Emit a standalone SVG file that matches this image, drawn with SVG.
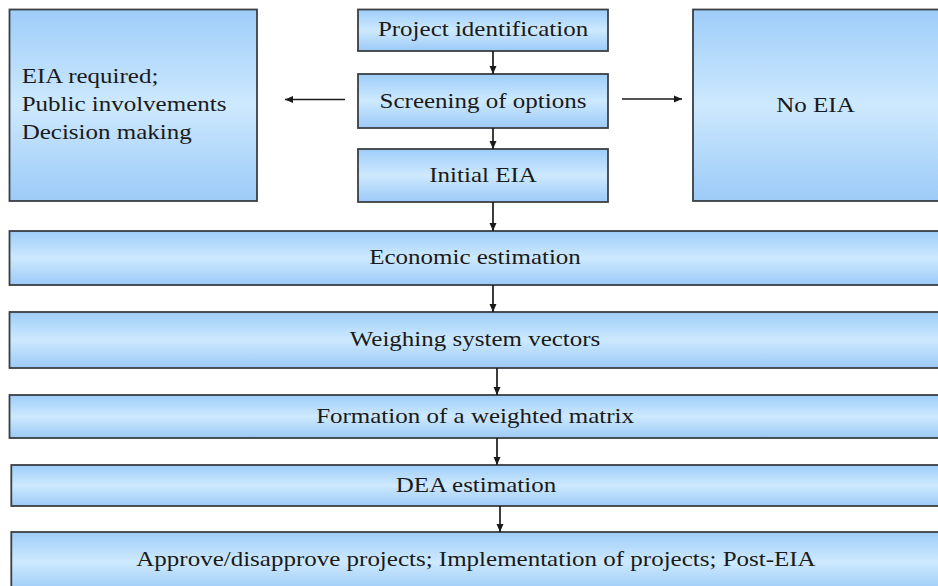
<svg xmlns="http://www.w3.org/2000/svg" width="938" height="586" viewBox="0 0 938 586">
<defs>
<linearGradient id="g" x1="0" y1="0" x2="0" y2="1">
<stop offset="0" stop-color="#9ecdf9"/>
<stop offset="0.5" stop-color="#cde9fe"/>
<stop offset="1" stop-color="#9ccaf7"/>
</linearGradient>
<marker id="ah" markerWidth="9" markerHeight="9" refX="8" refY="4.5" orient="auto" markerUnits="userSpaceOnUse">
<path d="M0,1 L8,4.5 L0,8 Z" fill="#1a1a1a"/>
</marker>
<style>
.box{fill:url(#g);stroke:#3b3f44;stroke-width:1.8}
.t{font-family:"Liberation Serif","Times New Roman",serif;font-size:21px;fill:#1a1a1a}
.m{text-anchor:middle}
.c{stroke:#1a1a1a;stroke-width:1.7;fill:none;marker-end:url(#ah)}
</style>
</defs>
<rect width="938" height="586" fill="#ffffff"/>
<g id="eia-required">
<rect class="box" x="9.5" y="9.5" width="247.5" height="191.5"/>
<text class="t" transform="scale(1.19 1)"><tspan x="18.2" y="83">EIA required;</tspan><tspan x="18.2" y="111">Public involvements</tspan><tspan x="18.2" y="139">Decision making</tspan></text>
</g>
<g id="project-identification">
<rect class="box" x="358" y="9.5" width="250" height="41.5"/>
<text class="t m" x="405.9" y="36.5" transform="scale(1.19 1)">Project identification</text>
</g>
<g id="screening">
<rect class="box" x="358" y="74" width="250" height="54"/>
<text class="t m" x="405.9" y="108" transform="scale(1.19 1)">Screening of options</text>
</g>
<g id="initial-eia">
<rect class="box" x="358" y="149" width="250" height="53"/>
<text class="t m" x="405.9" y="182" transform="scale(1.19 1)">Initial EIA</text>
</g>
<g id="no-eia">
<rect class="box" x="693" y="9.5" width="247" height="191.5"/>
<text class="t m" x="685.3" y="112" transform="scale(1.19 1)">No EIA</text>
</g>
<g id="economic-estimation">
<rect class="box" x="9.5" y="231" width="931" height="54"/>
<text class="t m" x="399.2" y="264" transform="scale(1.19 1)">Economic estimation</text>
</g>
<g id="weighing">
<rect class="box" x="9.5" y="312" width="931" height="56"/>
<text class="t m" x="399.2" y="346.5" transform="scale(1.19 1)">Weighing system vectors</text>
</g>
<g id="formation">
<rect class="box" x="9.5" y="395" width="931" height="43"/>
<text class="t m" x="399.2" y="423.5" transform="scale(1.19 1)">Formation of a weighted matrix</text>
</g>
<g id="dea">
<rect class="box" x="11.3" y="465" width="929" height="41"/>
<text class="t m" x="400" y="492.5" transform="scale(1.19 1)">DEA estimation</text>
</g>
<g id="approve">
<rect class="box" x="11.3" y="532" width="929" height="60"/>
<text class="t m" x="400" y="566" transform="scale(1.19 1)">Approve/disapprove projects; Implementation of projects; Post-EIA</text>
</g>
<g id="connectors">
<line class="c" x1="493" y1="51" x2="493" y2="74"/>
<line class="c" x1="493" y1="128" x2="493" y2="149"/>
<line class="c" x1="493" y1="202" x2="493" y2="231"/>
<line class="c" x1="493" y1="285" x2="493" y2="312"/>
<line class="c" x1="497" y1="368" x2="497" y2="395"/>
<line class="c" x1="497" y1="438" x2="497" y2="465"/>
<line class="c" x1="500" y1="506" x2="500" y2="532"/>
<line class="c" x1="345" y1="99.5" x2="285" y2="99.5"/>
<line class="c" x1="622" y1="99" x2="682" y2="99"/>
</g>
</svg>
